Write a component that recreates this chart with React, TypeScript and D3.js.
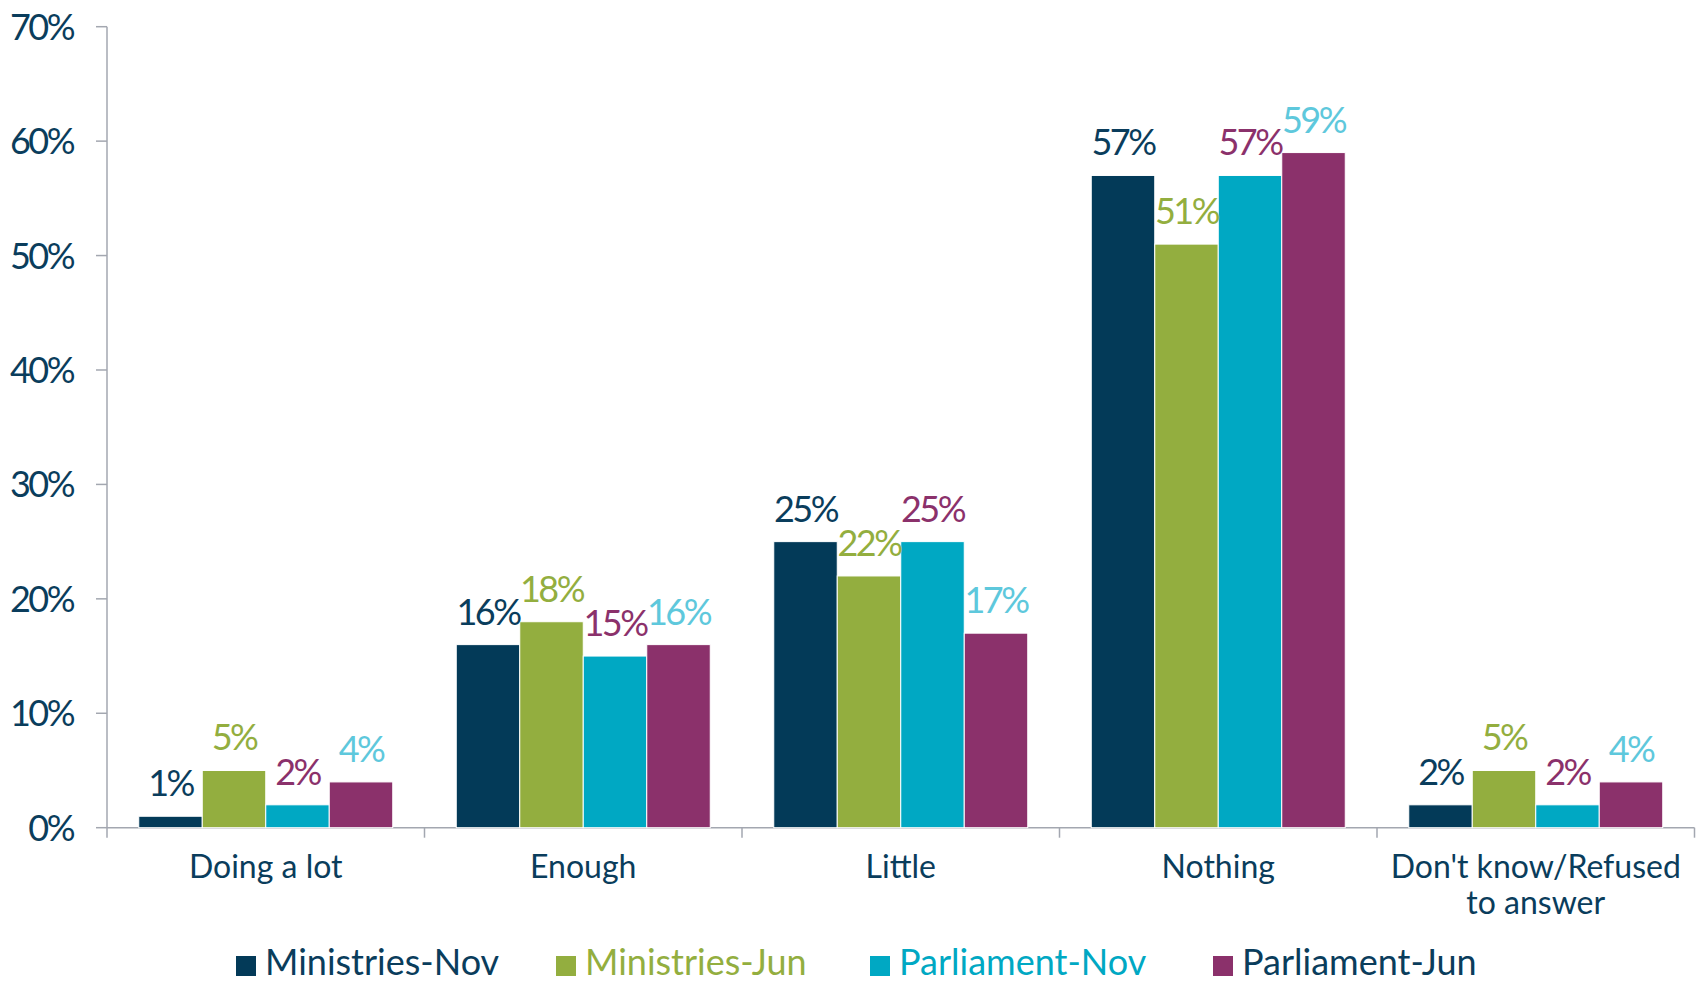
import React from "react";
import * as d3 from "d3";

const categories = ["Doing a lot", "Enough", "Little", "Nothing", "Don't know/Refused|to answer"];
const seriesNames = ["Ministries-Nov", "Ministries-Jun", "Parliament-Nov", "Parliament-Jun"];
const ministriesNov = [1, 16, 25, 57, 2];
const ministriesJun = [5, 18, 22, 51, 5];
const parliamentNov = [2, 15, 25, 57, 2];
const parliamentJun = [4, 16, 17, 59, 4];
const yTicks = [0, 10, 20, 30, 40, 50, 60, 70];

const seriesValues = [ministriesNov, ministriesJun, parliamentNov, parliamentJun];
const barColors = ["#033a58", "#93ae3f", "#00a8c3", "#8b316b"];
const labelColors = ["#0a3d5c", "#93ae3f", "#8b316b", "#5ec8dc"];
const legendTextColors = ["#0a3d5c", "#93ae3f", "#00a8c3", "#0a3d5c"];

const FONT = "Lato, 'Noto Sans', sans-serif";
const TEXT = "#0a3d5c";
const AXIS = "#a3a7b0";

export default function App() {
  const left = 107;
  const right = 1694.5;
  const top = 26.7;
  const bottom = 827.7;

  const x0 = d3.scaleBand<string>().domain(categories).range([left, right]).paddingInner(0).paddingOuter(0);
  const x1 = d3
    .scaleBand<string>()
    .domain(seriesNames)
    .range([0, x0.bandwidth()])
    .paddingInner(0)
    .paddingOuter(0.5);
  const y = d3.scaleLinear().domain([0, 70]).range([bottom, top]);

  const legendSquareX = [236, 556, 870, 1213];

  return (
    <svg
      width={1700}
      height={984}
      style={{ position: "absolute", left: 0, top: 0, background: "#fff" }}
      fontFamily={FONT}
    >
      {/* y axis */}
      <line x1={left} x2={left} y1={top} y2={bottom} stroke={AXIS} strokeWidth={1.5} />
      {yTicks.map((t) => (
        <g key={t}>
          <line x1={left - 11} x2={left} y1={y(t)} y2={y(t)} stroke={AXIS} strokeWidth={1.5} />
          <text
            x={73}
            y={y(t)}
            dy="0.36em"
            textAnchor="end"
            fontSize={36}
            letterSpacing={-2.5}
            fill={TEXT}
          >
            {t}%
          </text>
        </g>
      ))}
      {/* x axis */}
      <line x1={left} x2={right} y1={bottom} y2={bottom} stroke={AXIS} strokeWidth={1.5} />
      {categories.map((c, i) => (
        <line
          key={"t" + i}
          x1={x0(c)!}
          x2={x0(c)!}
          y1={bottom}
          y2={bottom + 10}
          stroke={AXIS}
          strokeWidth={1.5}
        />
      ))}
      <line x1={right} x2={right} y1={bottom} y2={bottom + 10} stroke={AXIS} strokeWidth={1.5} />

      {/* bars */}
      {categories.map((c, ci) => (
        <g key={c} transform={`translate(${x0(c)},0)`}>
          {seriesNames.map((s, si) => {
            const v = seriesValues[si][ci];
            return (
              <rect
                key={s}
                x={x1(s)!}
                y={y(v)}
                width={x1.bandwidth()}
                height={bottom - y(v)}
                fill={barColors[si]}
                stroke="#fff"
                strokeWidth={1}
              />
            );
          })}
          {seriesNames.map((s, si) => {
            const v = seriesValues[si][ci];
            return (
              <text
                key={"l" + s}
                x={x1(s)! + x1.bandwidth() / 2}
                y={y(v) - 20}
                textAnchor="middle"
                fontSize={36}
                letterSpacing={-2.5}
                fill={labelColors[si]}
              >
                {v}%
              </text>
            );
          })}
          {c.split("|").map((line, li) => (
            <text
              key={"c" + li}
              x={x0.bandwidth() / 2}
              y={878 + li * 36}
              textAnchor="middle"
              fontSize={32}
              fill={TEXT}
            >
              {line}
            </text>
          ))}
        </g>
      ))}

      {/* legend */}
      {seriesNames.map((s, si) => (
        <g key={"lg" + s}>
          <rect x={legendSquareX[si]} y={956} width={20} height={20} fill={barColors[si]} />
          <text x={legendSquareX[si] + 29} y={975} fontSize={36} fill={legendTextColors[si]}>
            {s}
          </text>
        </g>
      ))}
    </svg>
  );
}
